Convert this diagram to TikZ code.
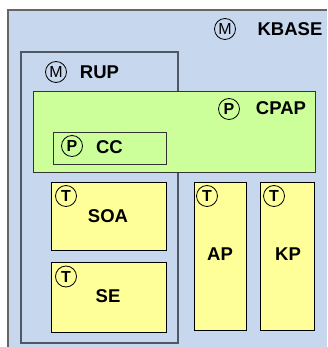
\documentclass[tikz,border=0pt]{standalone}
\usepackage{fontspec}
\setmainfont{Liberation Sans}
\definecolor{kbblue}{RGB}{198,215,238}
\definecolor{cpgreen}{RGB}{204,255,153}
\definecolor{tyellow}{RGB}{255,255,153}
\definecolor{rupline}{RGB}{80,88,100}
\begin{document}
\begin{tikzpicture}[x=1pt,y=-1pt,
  box/.style={draw=black,line width=0.8pt,fill=tyellow,inner sep=0pt},
  pkg/.style={draw=rupline,line width=1.2pt,inner sep=0pt},
  badge/.style={draw=black,circle,line width=0.8pt,minimum size=21pt,inner sep=0pt,font=\fontsize{16}{16}\selectfont},
  bbadge/.style={badge,font=\fontsize{16}{16}\selectfont\bfseries},
  title/.style={font=\fontsize{18.5}{18.5}\selectfont\bfseries,inner sep=0pt}]
\useasboundingbox (0,0) rectangle (327,347);
% KBASE background
\fill[kbblue] (8,10) rectangle (327,347);
\draw[gray!80!black,line width=1.2pt] (8,347) -- (8,10) -- (327,10);
\node[badge] (mk) at (225,29) {M};
\node[title] (kbase) at (290,29) {KBASE};
% RUP
\node[pkg,fill=kbblue,minimum width=157pt,minimum height=291pt] (rup) at (99.5,197.5) {};
\node[badge] (mr) at (56,72) {M};
\node[title] (ruplbl) at (99.5,72) {RUP};
% CPAP
\node[draw=black!80,line width=0.8pt,fill=cpgreen,minimum width=282pt,minimum height=81pt,inner sep=0pt] (cpap) at (174,131.5) {};
\node[bbadge] (pc) at (229,109) {P};
\node[title] (cpaplbl) at (281,108) {CPAP};
% CC
\node[draw=black!80,line width=0.8pt,minimum width=113pt,minimum height=32pt,inner sep=0pt] (cc) at (109.5,148) {};
\node[bbadge] (pcc) at (72,146) {P};
\node[title] (cclbl) at (109.5,147) {CC};
% SOA
\node[box,minimum width=115pt,minimum height=68pt] (soa) at (108.5,216) {};
\node[bbadge] (tsoa) at (66,196) {T};
\node[title] (soalbl) at (108,216) {SOA};
% SE
\node[box,minimum width=115pt,minimum height=70pt] (se) at (108.5,297) {};
\node[bbadge] (tse) at (66,276.5) {T};
\node[title] (selbl) at (108,296) {SE};
% AP
\node[box,minimum width=52pt,minimum height=148pt] (ap) at (220,256) {};
\node[bbadge] (tap) at (207,196) {T};
\node[title] (aplbl) at (220,254) {AP};
% KP
\node[box,minimum width=54pt,minimum height=148pt] (kp) at (287,256) {};
\node[bbadge] (tkp) at (274,196) {T};
\node[title] (kplbl) at (288,254) {KP};
\end{tikzpicture}
\end{document}
